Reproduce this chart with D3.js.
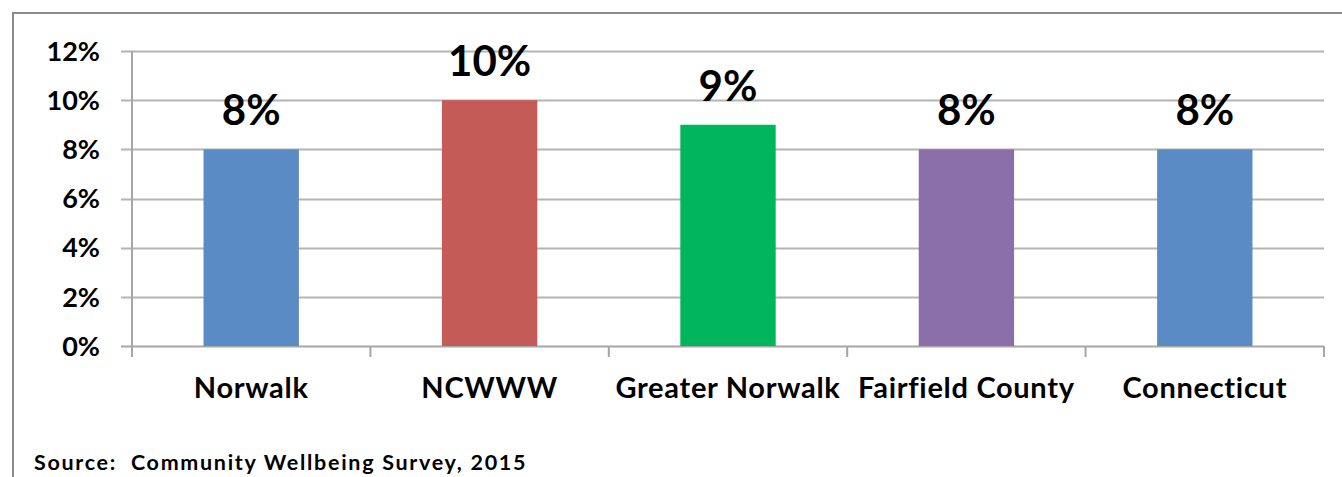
<!DOCTYPE html>
<html>
<head>
<meta charset="utf-8">
<script src="https://cdn.jsdelivr.net/npm/d3@7"></script>
<style>
  body { margin: 0; background: #fff; }
  text { font-family: Lato, "Open Sans", sans-serif; font-weight: bold; fill: #000; }
</style>
</head>
<body>
<div id="root"></div>
<script>
const width = 1342
const height = 477

// data
const categories = ['Norwalk', 'NCWWW', 'Greater Norwalk', 'Fairfield County', 'Connecticut']
const values = [0.08, 0.10, 0.09, 0.08, 0.08]
const barColors = ['#5b8bc4', '#c55b57', '#00b65c', '#8a6fab', '#5b8bc4']
const yTicks = [0, 0.02, 0.04, 0.06, 0.08, 0.10, 0.12]
const source = 'Source:  Community Wellbeing Survey, 2015'

const svg = d3.select('#root').append('svg')
  .attr('width', width)
  .attr('height', height)

// outer frame (only top and left are in view)
svg.append('path')
  .attr('d', `M13,${height} V13 H${width}`)
  .attr('fill', 'none')
  .attr('stroke', '#8c8c8c')
  .attr('stroke-width', 2)

const plotLeft = 132, plotRight = 1324, plotTop = 51, plotBottom = 346

const y = d3.scaleLinear()
  .domain([0, 0.12])
  .range([plotBottom, plotTop])

const x = d3.scaleBand()
  .domain(categories)
  .range([plotLeft, plotRight])
  .paddingInner(0.6)
  .paddingOuter(0.3)

const xCat = d3.scaleBand()
  .domain(categories)
  .range([plotLeft, plotRight])

// gridlines + y ticks
svg.append('g')
  .selectAll('line')
  .data(yTicks)
  .enter().append('line')
    .attr('x1', plotLeft - 11)
    .attr('x2', plotRight)
    .attr('y1', d => Math.round(y(d)) + 0.5)
    .attr('y2', d => Math.round(y(d)) + 0.5)
    .attr('stroke', d => d === 0 ? '#a6a6a6' : '#b4b4b4')
    .attr('stroke-width', 2)

svg.append('g')
  .selectAll('text')
  .data(yTicks)
  .enter().append('text')
    .attr('x', 100)
    .attr('y', d => y(d))
    .attr('dy', '0.36em')
    .attr('text-anchor', 'end')
    .style('font-size', '27px')
    .text(d3.format('.0%'))

// y axis line
svg.append('line')
  .attr('x1', plotLeft).attr('x2', plotLeft)
  .attr('y1', plotTop).attr('y2', plotBottom + 11)
  .attr('stroke', '#a6a6a6')
  .attr('stroke-width', 2)

// category ticks
svg.append('g')
  .selectAll('line')
  .data(categories)
  .enter().append('line')
    .attr('x1', d => xCat(d) + xCat.bandwidth())
    .attr('x2', d => xCat(d) + xCat.bandwidth())
    .attr('y1', plotBottom)
    .attr('y2', plotBottom + 11)
    .attr('stroke', '#a6a6a6')
    .attr('stroke-width', 2)

// bars
svg.append('g')
  .selectAll('rect')
  .data(values)
  .enter().append('rect')
    .attr('x', (d, i) => x(categories[i]))
    .attr('width', x.bandwidth())
    .attr('y', d => y(d))
    .attr('height', d => plotBottom - y(d))
    .attr('fill', (d, i) => barColors[i])

// value labels
svg.append('g')
  .selectAll('text')
  .data(values)
  .enter().append('text')
    .attr('x', (d, i) => x(categories[i]) + x.bandwidth() / 2)
    .attr('y', d => y(d) - 24)
    .attr('text-anchor', 'middle')
    .style('font-size', '42px')
    .text(d3.format('.0%'))

// category labels
svg.append('g')
  .selectAll('text')
  .data(categories)
  .enter().append('text')
    .attr('x', d => xCat(d) + xCat.bandwidth() / 2)
    .attr('y', 398)
    .attr('text-anchor', 'middle')
    .style('font-size', '29px')
    .style('letter-spacing', '0.7px')
    .text(d => d)

svg.append('text')
  .attr('x', 34)
  .attr('y', 470)
  .style('font-size', '21.5px')
  .style('letter-spacing', '1.7px')
  .style('white-space', 'pre')
  .text(source)
</script>
</body>
</html>
